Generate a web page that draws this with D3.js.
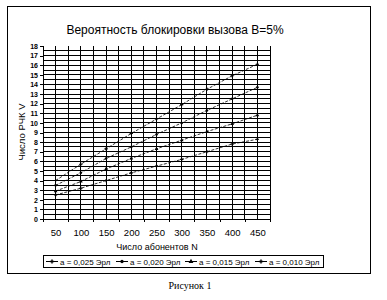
<!DOCTYPE html>
<html lang="ru">
<head>
    <meta charset="UTF-8">
    <title>Вероятность блокировки вызова</title>
    <script src="https://cdn.jsdelivr.net/npm/d3@7"></script>
    <style>
        body { margin: 0; background: #fff; }
        text { font-family: Arial, "Liberation Sans", sans-serif; fill: #000; }
    </style>
</head>
<body>
<script>
    // data
    let subscribers = [50, 100, 150, 200, 250, 300, 350, 400, 450]
    let seriesNames = ["a = 0,025 Эрл", "a = 0,020 Эрл", "a = 0,015 Эрл", "a = 0,010 Эрл"]
    let a025 = [4.0, 5.7, 7.3, 8.9, 10.4, 11.9, 13.5, 14.9, 16.1]
    let a020 = [3.5, 4.8, 6.3, 7.5, 8.8, 10.0, 11.3, 12.5, 13.7]
    let a015 = [2.9, 3.9, 5.2, 6.3, 7.3, 8.2, 9.1, 9.9, 10.8]
    let a010 = [2.5, 3.2, 4.0, 4.8, 5.5, 6.2, 7.0, 7.8, 8.3]
    let yTicks = d3.range(0, 19)
    let series = [a025, a020, a015, a010]
    let symbols = [d3.symbolCross, d3.symbolCircle, d3.symbolTriangle, d3.symbolCross]
    let symbolSize = [6, 5, 6, 6]

    let svg = d3.select('body').append('svg')
        .attr('width', 387)
        .attr('height', 300)

    // chart frame
    svg.append('rect')
        .attr('x', 7.5).attr('y', 6.5)
        .attr('width', 363).attr('height', 267)
        .attr('fill', 'none').attr('stroke', '#000')

    svg.append('text')
        .attr('x', 175).attr('y', 34)
        .attr('text-anchor', 'middle')
        .style('font-size', '12px')
        .text('Вероятность блокировки вызова B=5%')

    let xScale = d3.scaleLinear().domain([25, 475]).range([43, 270])
    let yScale = d3.scaleLinear().domain([0, 18]).range([219, 46])

    let grid = svg.append('g').attr('shape-rendering', 'crispEdges').attr('stroke', '#000')
    // horizontal grid every half unit
    grid.selectAll('line.h').data(d3.range(0, 18, 0.5))
        .enter().append('line')
        .attr('x1', xScale(25)).attr('x2', xScale(475))
        .attr('y1', d => yScale(d)).attr('y2', d => yScale(d))
    // vertical grid every 25 abonents
    grid.selectAll('line.v').data(d3.range(25, 476, 25))
        .enter().append('line')
        .attr('x1', d => xScale(d)).attr('x2', d => xScale(d))
        .attr('y1', yScale(0)).attr('y2', yScale(18))

    // y axis
    let yAxis = svg.append('g')
        .attr('transform', 'translate(' + xScale(25) + ',0)')
        .call(d3.axisLeft(yScale).tickValues(yTicks).tickSize(3).tickSizeOuter(0))
    yAxis.select('.domain').remove()
    yAxis.selectAll('line').attr('stroke', '#000').attr('shape-rendering', 'crispEdges')
    yAxis.selectAll('text').style('font-size', '7px').style('font-weight', 'bold').attr('x', -5)

    // x axis: ticks between categories, labels at categories
    let xTickAxis = svg.append('g')
        .attr('transform', 'translate(0,' + yScale(0) + ')')
        .call(d3.axisBottom(xScale).tickValues(d3.range(25, 476, 50)).tickSize(3).tickFormat(''))
    xTickAxis.select('.domain').remove()
    xTickAxis.selectAll('line').attr('stroke', '#000').attr('shape-rendering', 'crispEdges')

    let xLabelAxis = svg.append('g')
        .attr('transform', 'translate(0,' + yScale(0) + ')')
        .call(d3.axisBottom(xScale).tickValues(subscribers).tickSize(0).tickPadding(10))
    xLabelAxis.select('.domain').remove()
    xLabelAxis.selectAll('text').style('font-size', '9.5px')

    svg.append('text')
        .attr('x', -132).attr('y', 25)
        .attr('transform', 'rotate(-90)')
        .attr('text-anchor', 'middle')
        .style('font-size', '9.5px')
        .text('Число РЧК V')

    svg.append('text')
        .attr('x', 157).attr('y', 250)
        .attr('text-anchor', 'middle')
        .style('font-size', '9px')
        .text('Число абонентов N')

    // series lines
    let line = d3.line()
        .x((d, i) => xScale(subscribers[i]))
        .y(d => yScale(d))

    series.forEach(function (values, k) {
        svg.append('path')
            .datum(values)
            .attr('d', line)
            .attr('fill', 'none')
            .attr('stroke', '#000')
            .attr('stroke-width', 0.8)
            .attr('stroke-dasharray', '3,1.5')
        svg.append('g').selectAll('path').data(values)
            .enter().append('path')
            .attr('transform', (d, i) => 'translate(' + xScale(subscribers[i]) + ',' + yScale(d) + ')')
            .attr('d', d3.symbol().type(symbols[k]).size(symbolSize[k]))
            .attr('fill', '#000')
    })

    // legend
    let legend = svg.append('g')
    legend.append('rect')
        .attr('x', 43.5).attr('y', 255.5)
        .attr('width', 280).attr('height', 12)
        .attr('fill', 'none').attr('stroke', '#000')
    let legendX = [46, 116, 185, 255]
    seriesNames.forEach(function (name, k) {
        let g = legend.append('g').attr('transform', 'translate(' + legendX[k] + ',261.5)')
        g.append('line').attr('x1', 0).attr('x2', 12).attr('stroke', '#000')
        g.append('path').attr('transform', 'translate(6,0)')
            .attr('d', d3.symbol().type(symbols[k]).size(symbolSize[k] + 4))
            .attr('fill', '#000')
        g.append('text').attr('x', 14).attr('y', 3)
            .style('font-size', '8px')
            .text(name)
    })

    svg.append('text')
        .attr('x', 190).attr('y', 289)
        .attr('text-anchor', 'middle')
        .style('font-family', '"Liberation Serif", "Times New Roman", serif')
        .style('font-size', '10px')
        .text('Рисунок 1')
</script>
</body>
</html>
